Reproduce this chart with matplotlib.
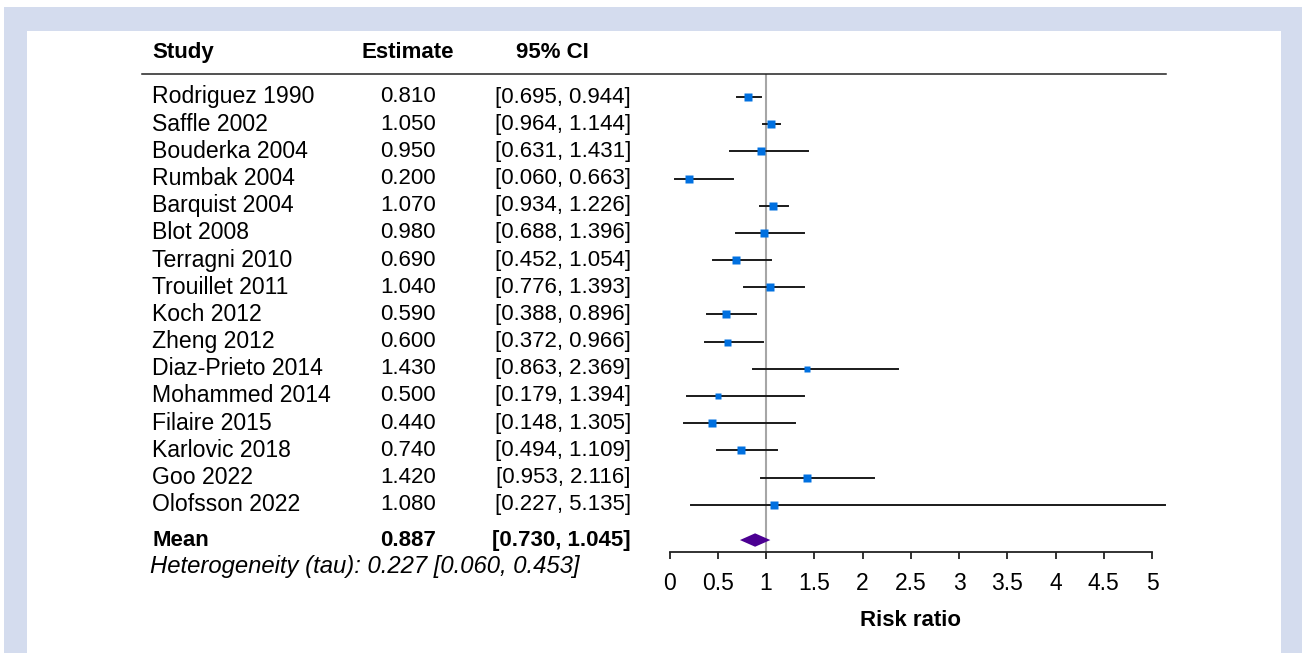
import matplotlib
matplotlib.use("Agg")
import matplotlib.pyplot as plt
import matplotlib.patches as patches
from matplotlib.lines import Line2D
from matplotlib.transforms import blended_transform_factory

plt.rcParams['font.family'] = ['Liberation Sans', 'DejaVu Sans']

# --- data ---
studies = ["Rodriguez 1990", "Saffle 2002", "Bouderka 2004", "Rumbak 2004",
           "Barquist 2004", "Blot 2008", "Terragni 2010", "Trouillet 2011",
           "Koch 2012", "Zheng 2012", "Diaz-Prieto 2014", "Mohammed 2014",
           "Filaire 2015", "Karlovic 2018", "Goo 2022", "Olofsson 2022"]
estimates = [0.810, 1.050, 0.950, 0.200, 1.070, 0.980, 0.690, 1.040,
             0.590, 0.600, 1.430, 0.500, 0.440, 0.740, 1.420, 1.080]
ci_lower = [0.695, 0.964, 0.631, 0.060, 0.934, 0.688, 0.452, 0.776,
            0.388, 0.372, 0.863, 0.179, 0.148, 0.494, 0.953, 0.227]
ci_upper = [0.944, 1.144, 1.431, 0.663, 1.226, 1.396, 1.054, 1.393,
            0.896, 0.966, 2.369, 1.394, 1.305, 1.109, 2.116, 5.135]
mean_est = 0.887
mean_ci = [0.730, 1.045]
tau_est = 0.227
tau_ci = [0.060, 0.453]
x_ticks = [0, 0.5, 1, 1.5, 2, 2.5, 3, 3.5, 4, 4.5, 5]
x_tick_labels = ["0", "0.5", "1", "1.5", "2", "2.5", "3", "3.5", "4", "4.5", "5"]

# square sizes in pixels (study weights)
marker_px = [8, 8, 8, 8, 8, 8, 8, 8, 8, 7, 6, 6, 7.5, 8, 8, 8]

W, H = 1302, 653
fig = plt.figure(figsize=(W / 100, H / 100), dpi=100)
fig.patch.set_facecolor("white")

# light blue frame + white panel
fig.patches.append(patches.Rectangle((4 / W, 0), 1 - 4 / W, 1 - 7 / H, transform=fig.transFigure,
                                     facecolor="#d4dcee", edgecolor="none", zorder=-10))
fig.patches.append(patches.Rectangle((27 / W, 0), (1281 - 27) / W, 1 - 31 / H, transform=fig.transFigure,
                                     facecolor="white", edgecolor="none", zorder=-9))

ax_left, ax_right = 669.5, 1152
ax_top, ax_bottom = 74, 552.3
ax = fig.add_axes([ax_left / W, (H - ax_bottom) / H, (ax_right - ax_left) / W, (ax_bottom - ax_top) / H])
ax.set_facecolor("none")

row_px = 27.18
first_row = 97
ax.set_xlim(0, 5)
ax.set_ylim((ax_bottom - first_row) / row_px, (ax_top - first_row) / row_px)

for s in ["top", "right", "left"]:
    ax.spines[s].set_visible(False)
ax.spines["bottom"].set_linewidth(1.3)
ax.spines["bottom"].set_color("#222222")
ax.set_yticks([])
ax.set_xticks(x_ticks)
ax.set_xticklabels(x_tick_labels, fontsize=16.5)
ax.tick_params(axis="x", length=5, width=1.3, color="#222222", pad=9)
ax.set_xlabel("Risk ratio", fontsize=16, fontweight="bold", labelpad=11)

# reference line at 1
ax.axvline(1, color="#a6a6a6", lw=1.5, zorder=1)

rows = list(range(len(studies)))
for i in rows:
    ax.plot([ci_lower[i], ci_upper[i]], [i, i], color="#1a1a1a", lw=1.4, zorder=2, clip_on=False)
    ax.plot(estimates[i], i, marker="s", ms=marker_px[i] * 0.72, color="#0070e0",
            mec="none", zorder=3, clip_on=False)

# pooled estimate diamond
mean_row = 16.3
dh = 6.7 / row_px
ax.add_patch(patches.Polygon([[mean_ci[0], mean_row], [mean_est, mean_row - dh],
                              [mean_ci[1], mean_row], [mean_est, mean_row + dh]],
                             closed=True, facecolor="#4b0092", edgecolor="none", zorder=3, clip_on=False))

# table text
tr = blended_transform_factory(fig.transFigure, ax.transData)
x_study, x_est, x_ci_hdr, x_ci = 152 / W, 408 / W, 552 / W, 631 / W
head_row = -1.65
fs = 16
fig.text(x_study, head_row, "Study", transform=tr, fontsize=fs, fontweight="bold", va="center", ha="left")
fig.text(x_est, head_row, "Estimate", transform=tr, fontsize=fs, fontweight="bold", va="center", ha="center")
fig.text(x_ci_hdr, head_row, "95% CI", transform=tr, fontsize=fs, fontweight="bold", va="center", ha="center")

for i in rows:
    fig.text(x_study, i, studies[i], transform=tr, fontsize=16.6, va="center", ha="left")
    fig.text(x_est, i, f"{estimates[i]:.3f}", transform=tr, fontsize=fs, va="center", ha="center")
    fig.text(x_ci, i, f"[{ci_lower[i]:.3f}, {ci_upper[i]:.3f}]", transform=tr, fontsize=fs,
             va="center", ha="right")

fig.text(x_study, mean_row, "Mean", transform=tr, fontsize=fs, fontweight="bold", va="center", ha="left")
fig.text(x_est, mean_row, f"{mean_est:.3f}", transform=tr, fontsize=fs, fontweight="bold", va="center", ha="center")
fig.text(x_ci, mean_row, f"[{mean_ci[0]:.3f}, {mean_ci[1]:.3f}]", transform=tr, fontsize=fs,
         fontweight="bold", va="center", ha="right")
fig.text(150 / W, 17.26, f"Heterogeneity (tau): {tau_est:.3f} [{tau_ci[0]:.3f}, {tau_ci[1]:.3f}]",
         transform=tr, fontsize=17.2, style="italic", va="center", ha="left")

# header rule
fig.lines.append(Line2D([142 / W, 1166 / W], [(H - ax_top) / H] * 2, transform=fig.transFigure,
                        color="#222222", lw=1.1))

fig.savefig("out.png", dpi=100)
